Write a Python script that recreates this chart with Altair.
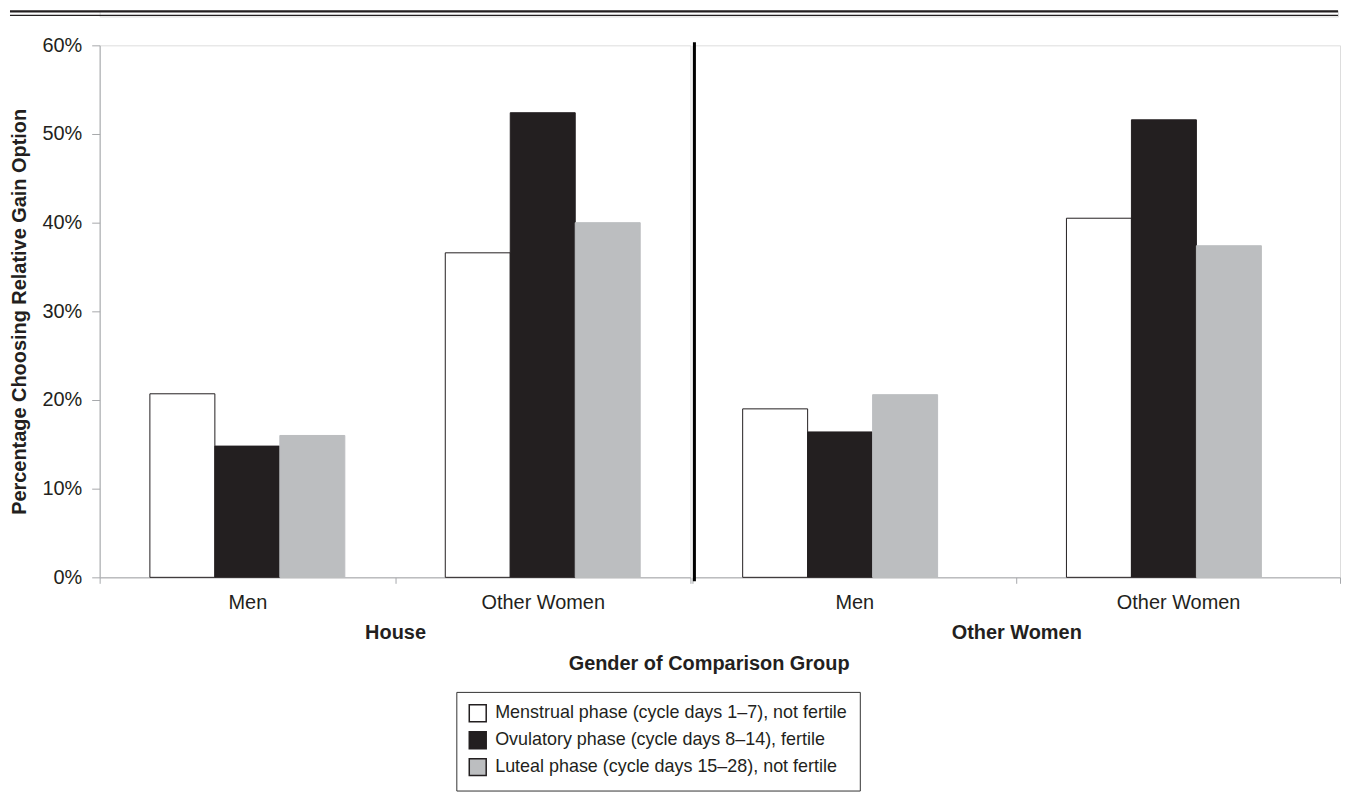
import altair as alt
import pandas as pd

# ---- data (percent choosing relative gain option) ----
phases = [
    "Menstrual phase (cycle days 1–7), not fertile",
    "Ovulatory phase (cycle days 8–14), fertile",
    "Luteal phase (cycle days 15–28), not fertile",
]
genders = ["Men", "Other Women"]
groups = ["House", "Other Women"]
house_men = [20.7, 14.8, 16.0]
house_women = [36.6, 52.4, 40.0]
other_men = [19.0, 16.4, 20.6]
other_women = [40.5, 51.6, 37.4]
y_ticks = [0, 0.1, 0.2, 0.3, 0.4, 0.5, 0.6]

fills = ["#ffffff", "#231f20", "#bcbec0"]

FONT = "Liberation Sans"
TXT = "#231f20"
AXC = "#a7a9ac"


def frame(men, women):
    rows = []
    for g, vals in zip(genders, [men, women]):
        for p, v in zip(phases, vals):
            rows.append({"gender": g, "phase": p, "value": v / 100.0})
    return pd.DataFrame(rows)


def panel(df, title, width, show_y, divider=False):
    yaxis = alt.Axis(
        values=y_ticks, format=".0%", grid=False, tickSize=8, labelPadding=10,
        domainColor=AXC, tickColor=AXC, labelColor=TXT, labelFontSize=20,
        labelFont=FONT, title="Percentage Choosing Relative Gain Option",
        titleFontSize=20, titleFont=FONT, titleFontWeight="bold", titleColor=TXT,
        titlePadding=12,
    ) if show_y else None
    bars = alt.Chart(df).mark_bar(strokeWidth=1).encode(
        x=alt.X("gender:N", sort=genders, title=title,
                scale=alt.Scale(paddingInner=0, paddingOuter=0),
                axis=alt.Axis(labelAngle=0, tickBand="extent", tickSize=6,
                              labelPadding=9, domainColor=AXC, tickColor=AXC,
                              labelColor=TXT, labelFontSize=20, labelFont=FONT,
                              titleFontSize=20, titleFont=FONT,
                              titleFontWeight="bold", titleColor=TXT,
                              titlePadding=10)),
        xOffset=alt.XOffset("phase:N", sort=phases,
                            scale=alt.Scale(paddingInner=0, paddingOuter=0.773)),
        y=alt.Y("value:Q", scale=alt.Scale(domain=[0, 0.6]), axis=yaxis),
        color=alt.Color("phase:N", sort=phases,
                        scale=alt.Scale(domain=phases, range=fills),
                        legend=alt.Legend(
                            title=None, orient="none", legendX=358, legendY=684,
                            direction="vertical", symbolType="square",
                            symbolSize=289, symbolStrokeColor=TXT,
                            symbolStrokeWidth=1.5, labelFontSize=18,
                            labelFont=FONT, labelColor=TXT, labelOffset=8,
                            rowPadding=4, padding=12, strokeColor="#333333",
                            fillColor="#ffffff", labelLimit=600)),
        stroke=alt.condition(alt.datum.phase == phases[2],
                             alt.value("#bcbec0"), alt.value(TXT)),
    )
    layers = [bars]
    if divider:
        rule = alt.Chart(pd.DataFrame({"a": [0]})).mark_rule(
            color="#000000", strokeWidth=3
        ).encode(x=alt.value(2), y=alt.value(-3), y2=alt.value(538))
        layers.append(rule)
    return alt.layer(*layers).properties(width=width, height=534)


p1 = panel(frame(house_men, house_women), groups[0], 593, True)
p2 = panel(frame(other_men, other_women), groups[1], 650, False, divider=True)

main = alt.hconcat(p1, p2, spacing=0).properties(
    title=alt.TitleParams(
        "Gender of Comparison Group", orient="bottom", anchor="middle",
        fontSize=20, font=FONT, fontWeight="bold", color=TXT, offset=12, dx=34,
    )
)

one = pd.DataFrame({"a": [0]})
r1 = alt.Chart(one).mark_rule(color=TXT, strokeWidth=2.2).encode(
    x=alt.value(-90), x2=alt.value(1243), y=alt.value(1))
r2 = alt.Chart(one).mark_rule(color=TXT, strokeWidth=1.2).encode(
    x=alt.value(-90), x2=alt.value(1243), y=alt.value(5))
toprules = alt.layer(r1, r2).properties(width=1243, height=6)

chart = alt.vconcat(toprules, main, spacing=17).properties(
    padding=0
).configure_view(stroke=None).configure(font=FONT)

chart.save("out.html", embed_options={"renderer": "svg", "actions": False})
